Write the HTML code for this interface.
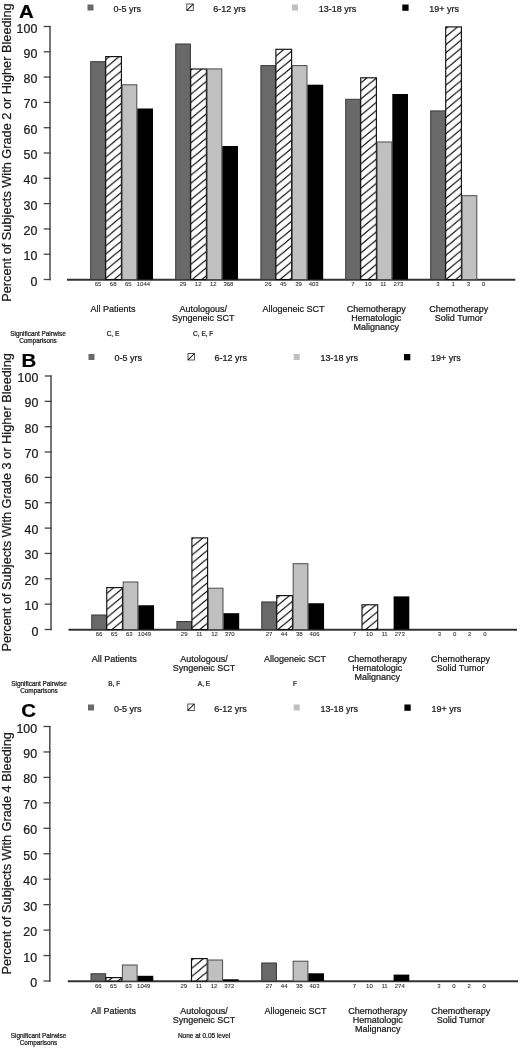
<!DOCTYPE html><html><head><meta charset="utf-8"><style>html,body{margin:0;padding:0;background:#fff;overflow:hidden;}svg{display:block;will-change:transform;}text{stroke:#111;stroke-width:0.22px;}</style></head><body>
<svg width="520" height="1049" viewBox="0 0 520 1049" font-family='"Liberation Sans", sans-serif'>
<defs><pattern id="h" patternUnits="userSpaceOnUse" width="9.76" height="8.1" patternTransform="translate(0,1.6)"><path d="M-1,8.93 L10.76,-0.83 M-1,0.83 L1,-0.83 M8.76,8.93 L10.76,7.27" stroke="#000" stroke-width="1.15" fill="none"/></pattern></defs>
<rect width="520" height="1049" fill="#fff"/>
<text transform="translate(19,17.6) scale(1.08,1)" font-size="18.9" font-weight="bold" fill="#000">A</text>
<rect x="87.5" y="4.5" width="6" height="6" fill="#696969"/>
<rect x="186.8" y="4" width="6.5" height="6.5" fill="#fff" stroke="#444" stroke-width="0.9"/>
<path d="M186.8,10.5 L193.3,4" stroke="#000" stroke-width="1.05"/>
<rect x="292" y="4.5" width="6" height="6" fill="#c0c0c0"/>
<rect x="402.3" y="4.5" width="6.3" height="6.3" fill="#000"/>
<text x="113.5" y="11.7" font-size="9" fill="#222">0-5 yrs</text>
<text x="213.3" y="11.7" font-size="9" fill="#222">6-12 yrs</text>
<text x="318.8" y="11.7" font-size="9" fill="#222">13-18 yrs</text>
<text x="429.3" y="11.7" font-size="9" fill="#222">19+ yrs</text>
<path d="M50,25.9 V280.3" stroke="#555" stroke-width="1.6" fill="none"/>
<path d="M43.7,279.5 H50.8" stroke="#444" stroke-width="1.3"/>
<text x="37.3" y="285.5" font-size="12.4" text-anchor="end" fill="#222">0</text>
<path d="M43.7,254.2 H50.8" stroke="#444" stroke-width="1.3"/>
<text x="37.3" y="260.2" font-size="12.4" text-anchor="end" fill="#222">10</text>
<path d="M43.7,228.9 H50.8" stroke="#444" stroke-width="1.3"/>
<text x="37.3" y="234.9" font-size="12.4" text-anchor="end" fill="#222">20</text>
<path d="M43.7,203.6 H50.8" stroke="#444" stroke-width="1.3"/>
<text x="37.3" y="209.6" font-size="12.4" text-anchor="end" fill="#222">30</text>
<path d="M43.7,178.3 H50.8" stroke="#444" stroke-width="1.3"/>
<text x="37.3" y="184.3" font-size="12.4" text-anchor="end" fill="#222">40</text>
<path d="M43.7,153 H50.8" stroke="#444" stroke-width="1.3"/>
<text x="37.3" y="159" font-size="12.4" text-anchor="end" fill="#222">50</text>
<path d="M43.7,127.7 H50.8" stroke="#444" stroke-width="1.3"/>
<text x="37.3" y="133.7" font-size="12.4" text-anchor="end" fill="#222">60</text>
<path d="M43.7,102.4 H50.8" stroke="#444" stroke-width="1.3"/>
<text x="37.3" y="108.4" font-size="12.4" text-anchor="end" fill="#222">70</text>
<path d="M43.7,77.1 H50.8" stroke="#444" stroke-width="1.3"/>
<text x="37.3" y="83.1" font-size="12.4" text-anchor="end" fill="#222">80</text>
<path d="M43.7,51.8 H50.8" stroke="#444" stroke-width="1.3"/>
<text x="37.3" y="57.8" font-size="12.4" text-anchor="end" fill="#222">90</text>
<path d="M43.7,26.5 H50.8" stroke="#444" stroke-width="1.3"/>
<text x="37.3" y="32.5" font-size="12.4" text-anchor="end" fill="#222">100</text>
<text transform="translate(11.3,152.6) rotate(-90)" font-size="12.75" text-anchor="middle" fill="#222">Percent of Subjects With Grade 2 or Higher Bleeding</text>
<path d="M67,279.8 H515.3" stroke="#333" stroke-width="2"/>
<rect x="90.7" y="61.7" width="14.7" height="217.8" fill="#696969" stroke="#383838" stroke-width="1"/>
<text x="98" y="286" font-size="6" text-anchor="middle" fill="#333" style="stroke-width:0.08px">65</text>
<rect x="105.9" y="56" width="15.7" height="223.5" fill="#fff" stroke="none"/>
<rect x="105.7" y="56.6" width="15.7" height="222.9" fill="url(#h)" stroke="#111" stroke-width="1.15"/>
<text x="113.15" y="286" font-size="6" text-anchor="middle" fill="#333" style="stroke-width:0.08px">68</text>
<rect x="122.1" y="84.8" width="14.7" height="194.7" fill="#c0c0c0" stroke="#4a4a4a" stroke-width="1"/>
<text x="128.3" y="286" font-size="6" text-anchor="middle" fill="#333" style="stroke-width:0.08px">65</text>
<rect x="137.3" y="108.5" width="15.7" height="171" fill="#000"/>
<text x="143.45" y="286" font-size="6" text-anchor="middle" fill="#333" style="stroke-width:0.08px">1044</text>
<rect x="175.7" y="44" width="14.7" height="235.5" fill="#696969" stroke="#383838" stroke-width="1"/>
<text x="183" y="286" font-size="6" text-anchor="middle" fill="#333" style="stroke-width:0.08px">29</text>
<rect x="190.9" y="68.4" width="15.7" height="211.1" fill="#fff" stroke="none"/>
<rect x="190.7" y="69" width="15.7" height="210.5" fill="url(#h)" stroke="#111" stroke-width="1.15"/>
<text x="198.15" y="286" font-size="6" text-anchor="middle" fill="#333" style="stroke-width:0.08px">12</text>
<rect x="207.1" y="68.9" width="14.7" height="210.6" fill="#c0c0c0" stroke="#4a4a4a" stroke-width="1"/>
<text x="213.3" y="286" font-size="6" text-anchor="middle" fill="#333" style="stroke-width:0.08px">12</text>
<rect x="222.3" y="146" width="15.7" height="133.5" fill="#000"/>
<text x="228.45" y="286" font-size="6" text-anchor="middle" fill="#333" style="stroke-width:0.08px">368</text>
<rect x="260.9" y="65.6" width="14.7" height="213.9" fill="#696969" stroke="#383838" stroke-width="1"/>
<text x="268.2" y="286" font-size="6" text-anchor="middle" fill="#333" style="stroke-width:0.08px">26</text>
<rect x="276.1" y="48.7" width="15.7" height="230.8" fill="#fff" stroke="none"/>
<rect x="275.9" y="49.3" width="15.7" height="230.2" fill="url(#h)" stroke="#111" stroke-width="1.15"/>
<text x="283.35" y="286" font-size="6" text-anchor="middle" fill="#333" style="stroke-width:0.08px">45</text>
<rect x="292.3" y="65.6" width="14.7" height="213.9" fill="#c0c0c0" stroke="#4a4a4a" stroke-width="1"/>
<text x="298.5" y="286" font-size="6" text-anchor="middle" fill="#333" style="stroke-width:0.08px">39</text>
<rect x="307.5" y="84.7" width="15.7" height="194.8" fill="#000"/>
<text x="313.65" y="286" font-size="6" text-anchor="middle" fill="#333" style="stroke-width:0.08px">403</text>
<rect x="345.7" y="99.3" width="14.7" height="180.2" fill="#696969" stroke="#383838" stroke-width="1"/>
<text x="353" y="286" font-size="6" text-anchor="middle" fill="#333" style="stroke-width:0.08px">7</text>
<rect x="360.9" y="77.2" width="15.7" height="202.3" fill="#fff" stroke="none"/>
<rect x="360.7" y="77.8" width="15.7" height="201.7" fill="url(#h)" stroke="#111" stroke-width="1.15"/>
<text x="368.15" y="286" font-size="6" text-anchor="middle" fill="#333" style="stroke-width:0.08px">10</text>
<rect x="377.1" y="142" width="14.7" height="137.5" fill="#c0c0c0" stroke="#4a4a4a" stroke-width="1"/>
<text x="383.3" y="286" font-size="6" text-anchor="middle" fill="#333" style="stroke-width:0.08px">11</text>
<rect x="392.3" y="94" width="15.7" height="185.5" fill="#000"/>
<text x="398.45" y="286" font-size="6" text-anchor="middle" fill="#333" style="stroke-width:0.08px">273</text>
<rect x="430.7" y="110.9" width="14.7" height="168.6" fill="#696969" stroke="#383838" stroke-width="1"/>
<text x="438" y="286" font-size="6" text-anchor="middle" fill="#333" style="stroke-width:0.08px">3</text>
<rect x="445.9" y="26.3" width="15.7" height="253.2" fill="#fff" stroke="none"/>
<rect x="445.7" y="26.9" width="15.7" height="252.6" fill="url(#h)" stroke="#111" stroke-width="1.15"/>
<text x="453.15" y="286" font-size="6" text-anchor="middle" fill="#333" style="stroke-width:0.08px">1</text>
<rect x="462.1" y="195.7" width="14.7" height="83.8" fill="#c0c0c0" stroke="#4a4a4a" stroke-width="1"/>
<text x="468.3" y="286" font-size="6" text-anchor="middle" fill="#333" style="stroke-width:0.08px">3</text>
<text x="483.45" y="286" font-size="6" text-anchor="middle" fill="#333" style="stroke-width:0.08px">0</text>
<text x="113" y="312.2" font-size="9" text-anchor="middle" fill="#222">All Patients</text>
<text x="203.2" y="312.2" font-size="9" text-anchor="middle" fill="#222">Autologous/</text>
<text x="203.2" y="321.3" font-size="9" text-anchor="middle" fill="#222">Syngeneic SCT</text>
<text x="293.5" y="312.2" font-size="9" text-anchor="middle" fill="#222">Allogeneic SCT</text>
<text x="376.3" y="312.2" font-size="9" text-anchor="middle" fill="#222">Chemotherapy</text>
<text x="376.3" y="321.3" font-size="9" text-anchor="middle" fill="#222">Hematologic</text>
<text x="376.3" y="330.4" font-size="9" text-anchor="middle" fill="#222">Malignancy</text>
<text x="458.8" y="312.2" font-size="9" text-anchor="middle" fill="#222">Chemotherapy</text>
<text x="458.8" y="321.3" font-size="9" text-anchor="middle" fill="#222">Solid Tumor</text>
<text x="38" y="336.1" font-size="6.4" text-anchor="middle" fill="#222">Significant Pairwise</text>
<text x="38" y="343.1" font-size="6.4" text-anchor="middle" fill="#222">Comparisons</text>
<text x="113" y="336.1" font-size="6.5" text-anchor="middle" fill="#222">C, E</text>
<text x="203.2" y="336.1" font-size="6.5" text-anchor="middle" fill="#222">C, E, F</text>
<text transform="translate(21.6,366.7) scale(1.08,1)" font-size="18.9" font-weight="bold" fill="#000">B</text>
<rect x="88.5" y="354" width="6" height="6" fill="#696969"/>
<rect x="188" y="353.5" width="6.5" height="6.5" fill="#fff" stroke="#444" stroke-width="0.9"/>
<path d="M188,360 L194.5,353.5" stroke="#000" stroke-width="1.05"/>
<rect x="293.7" y="354" width="6" height="6" fill="#c0c0c0"/>
<rect x="404" y="354" width="6.3" height="6.3" fill="#000"/>
<text x="114.5" y="361.2" font-size="9" fill="#222">0-5 yrs</text>
<text x="214.5" y="361.2" font-size="9" fill="#222">6-12 yrs</text>
<text x="320.5" y="361.2" font-size="9" fill="#222">13-18 yrs</text>
<text x="431" y="361.2" font-size="9" fill="#222">19+ yrs</text>
<path d="M51,375.4 V630.3" stroke="#555" stroke-width="1.6" fill="none"/>
<path d="M44.7,629.5 H51.8" stroke="#444" stroke-width="1.3"/>
<text x="38.3" y="635.5" font-size="12.4" text-anchor="end" fill="#222">0</text>
<path d="M44.7,604.15 H51.8" stroke="#444" stroke-width="1.3"/>
<text x="38.3" y="610.15" font-size="12.4" text-anchor="end" fill="#222">10</text>
<path d="M44.7,578.8 H51.8" stroke="#444" stroke-width="1.3"/>
<text x="38.3" y="584.8" font-size="12.4" text-anchor="end" fill="#222">20</text>
<path d="M44.7,553.45 H51.8" stroke="#444" stroke-width="1.3"/>
<text x="38.3" y="559.45" font-size="12.4" text-anchor="end" fill="#222">30</text>
<path d="M44.7,528.1 H51.8" stroke="#444" stroke-width="1.3"/>
<text x="38.3" y="534.1" font-size="12.4" text-anchor="end" fill="#222">40</text>
<path d="M44.7,502.75 H51.8" stroke="#444" stroke-width="1.3"/>
<text x="38.3" y="508.75" font-size="12.4" text-anchor="end" fill="#222">50</text>
<path d="M44.7,477.4 H51.8" stroke="#444" stroke-width="1.3"/>
<text x="38.3" y="483.4" font-size="12.4" text-anchor="end" fill="#222">60</text>
<path d="M44.7,452.05 H51.8" stroke="#444" stroke-width="1.3"/>
<text x="38.3" y="458.05" font-size="12.4" text-anchor="end" fill="#222">70</text>
<path d="M44.7,426.7 H51.8" stroke="#444" stroke-width="1.3"/>
<text x="38.3" y="432.7" font-size="12.4" text-anchor="end" fill="#222">80</text>
<path d="M44.7,401.35 H51.8" stroke="#444" stroke-width="1.3"/>
<text x="38.3" y="407.35" font-size="12.4" text-anchor="end" fill="#222">90</text>
<path d="M44.7,376 H51.8" stroke="#444" stroke-width="1.3"/>
<text x="38.3" y="382" font-size="12.4" text-anchor="end" fill="#222">100</text>
<text transform="translate(11.3,502.35) rotate(-90)" font-size="12.75" text-anchor="middle" fill="#222">Percent of Subjects With Grade 3 or Higher Bleeding</text>
<path d="M68.5,629.8 H517" stroke="#333" stroke-width="2"/>
<rect x="91.75" y="615" width="14.7" height="14.5" fill="#696969" stroke="#383838" stroke-width="1"/>
<text x="99.05" y="636" font-size="6" text-anchor="middle" fill="#333" style="stroke-width:0.08px">66</text>
<rect x="106.95" y="587" width="15.7" height="42.5" fill="#fff" stroke="none"/>
<rect x="106.75" y="587.6" width="15.7" height="41.9" fill="url(#h)" stroke="#111" stroke-width="1.15"/>
<text x="114.2" y="636" font-size="6" text-anchor="middle" fill="#333" style="stroke-width:0.08px">65</text>
<rect x="123.15" y="582" width="14.7" height="47.5" fill="#c0c0c0" stroke="#4a4a4a" stroke-width="1"/>
<text x="129.35" y="636" font-size="6" text-anchor="middle" fill="#333" style="stroke-width:0.08px">63</text>
<rect x="138.35" y="605.25" width="15.7" height="24.25" fill="#000"/>
<text x="144.5" y="636" font-size="6" text-anchor="middle" fill="#333" style="stroke-width:0.08px">1049</text>
<rect x="176.9" y="621.5" width="14.7" height="8" fill="#696969" stroke="#383838" stroke-width="1"/>
<text x="184.2" y="636" font-size="6" text-anchor="middle" fill="#333" style="stroke-width:0.08px">29</text>
<rect x="192.1" y="537.3" width="15.7" height="92.2" fill="#fff" stroke="none"/>
<rect x="191.9" y="537.9" width="15.7" height="91.6" fill="url(#h)" stroke="#111" stroke-width="1.15"/>
<text x="199.35" y="636" font-size="6" text-anchor="middle" fill="#333" style="stroke-width:0.08px">11</text>
<rect x="208.3" y="588.2" width="14.7" height="41.3" fill="#c0c0c0" stroke="#4a4a4a" stroke-width="1"/>
<text x="214.5" y="636" font-size="6" text-anchor="middle" fill="#333" style="stroke-width:0.08px">12</text>
<rect x="223.5" y="613.2" width="15.7" height="16.3" fill="#000"/>
<text x="229.65" y="636" font-size="6" text-anchor="middle" fill="#333" style="stroke-width:0.08px">370</text>
<rect x="261.75" y="601.95" width="14.7" height="27.55" fill="#696969" stroke="#383838" stroke-width="1"/>
<text x="269.05" y="636" font-size="6" text-anchor="middle" fill="#333" style="stroke-width:0.08px">27</text>
<rect x="276.95" y="595" width="15.7" height="34.5" fill="#fff" stroke="none"/>
<rect x="276.75" y="595.6" width="15.7" height="33.9" fill="url(#h)" stroke="#111" stroke-width="1.15"/>
<text x="284.2" y="636" font-size="6" text-anchor="middle" fill="#333" style="stroke-width:0.08px">44</text>
<rect x="293.15" y="563.7" width="14.7" height="65.8" fill="#c0c0c0" stroke="#4a4a4a" stroke-width="1"/>
<text x="299.35" y="636" font-size="6" text-anchor="middle" fill="#333" style="stroke-width:0.08px">38</text>
<rect x="308.35" y="603.25" width="15.7" height="26.25" fill="#000"/>
<text x="314.5" y="636" font-size="6" text-anchor="middle" fill="#333" style="stroke-width:0.08px">406</text>
<text x="354.3" y="636" font-size="6" text-anchor="middle" fill="#333" style="stroke-width:0.08px">7</text>
<rect x="362.2" y="604.2" width="15.7" height="25.3" fill="#fff" stroke="none"/>
<rect x="362" y="604.8" width="15.7" height="24.7" fill="url(#h)" stroke="#111" stroke-width="1.15"/>
<text x="369.45" y="636" font-size="6" text-anchor="middle" fill="#333" style="stroke-width:0.08px">10</text>
<text x="384.6" y="636" font-size="6" text-anchor="middle" fill="#333" style="stroke-width:0.08px">11</text>
<rect x="393.6" y="596.4" width="15.7" height="33.1" fill="#000"/>
<text x="399.75" y="636" font-size="6" text-anchor="middle" fill="#333" style="stroke-width:0.08px">273</text>
<text x="439.4" y="636" font-size="6" text-anchor="middle" fill="#333" style="stroke-width:0.08px">3</text>
<text x="454.55" y="636" font-size="6" text-anchor="middle" fill="#333" style="stroke-width:0.08px">0</text>
<text x="469.7" y="636" font-size="6" text-anchor="middle" fill="#333" style="stroke-width:0.08px">2</text>
<text x="484.85" y="636" font-size="6" text-anchor="middle" fill="#333" style="stroke-width:0.08px">0</text>
<text x="114.3" y="662.2" font-size="9" text-anchor="middle" fill="#222">All Patients</text>
<text x="204" y="662.2" font-size="9" text-anchor="middle" fill="#222">Autologous/</text>
<text x="204" y="671.3" font-size="9" text-anchor="middle" fill="#222">Syngeneic SCT</text>
<text x="294.9" y="662.2" font-size="9" text-anchor="middle" fill="#222">Allogeneic SCT</text>
<text x="377.2" y="662.2" font-size="9" text-anchor="middle" fill="#222">Chemotherapy</text>
<text x="377.2" y="671.3" font-size="9" text-anchor="middle" fill="#222">Hematologic</text>
<text x="377.2" y="680.4" font-size="9" text-anchor="middle" fill="#222">Malignancy</text>
<text x="460.5" y="662.2" font-size="9" text-anchor="middle" fill="#222">Chemotherapy</text>
<text x="460.5" y="671.3" font-size="9" text-anchor="middle" fill="#222">Solid Tumor</text>
<text x="39" y="686.1" font-size="6.4" text-anchor="middle" fill="#222">Significant Pairwise</text>
<text x="39" y="693.1" font-size="6.4" text-anchor="middle" fill="#222">Comparisons</text>
<text x="114.3" y="686.1" font-size="6.5" text-anchor="middle" fill="#222">B, F</text>
<text x="204" y="686.1" font-size="6.5" text-anchor="middle" fill="#222">A, E</text>
<text x="294.9" y="686.1" font-size="6.5" text-anchor="middle" fill="#222">F</text>
<text transform="translate(21.2,717.2) scale(1.08,1)" font-size="18.9" font-weight="bold" fill="#000">C</text>
<rect x="88" y="704.5" width="6" height="6" fill="#696969"/>
<rect x="187.8" y="704" width="6.5" height="6.5" fill="#fff" stroke="#444" stroke-width="0.9"/>
<path d="M187.8,710.5 L194.3,704" stroke="#000" stroke-width="1.05"/>
<rect x="293.7" y="704.5" width="6" height="6" fill="#c0c0c0"/>
<rect x="404.4" y="704.5" width="6.3" height="6.3" fill="#000"/>
<text x="114" y="711.7" font-size="9" fill="#222">0-5 yrs</text>
<text x="214.3" y="711.7" font-size="9" fill="#222">6-12 yrs</text>
<text x="320.5" y="711.7" font-size="9" fill="#222">13-18 yrs</text>
<text x="431.4" y="711.7" font-size="9" fill="#222">19+ yrs</text>
<path d="M49.8,725.9 V981.8" stroke="#555" stroke-width="1.6" fill="none"/>
<path d="M43.5,981 H50.6" stroke="#444" stroke-width="1.3"/>
<text x="37.1" y="987" font-size="12.4" text-anchor="end" fill="#222">0</text>
<path d="M43.5,955.55 H50.6" stroke="#444" stroke-width="1.3"/>
<text x="37.1" y="961.55" font-size="12.4" text-anchor="end" fill="#222">10</text>
<path d="M43.5,930.1 H50.6" stroke="#444" stroke-width="1.3"/>
<text x="37.1" y="936.1" font-size="12.4" text-anchor="end" fill="#222">20</text>
<path d="M43.5,904.65 H50.6" stroke="#444" stroke-width="1.3"/>
<text x="37.1" y="910.65" font-size="12.4" text-anchor="end" fill="#222">30</text>
<path d="M43.5,879.2 H50.6" stroke="#444" stroke-width="1.3"/>
<text x="37.1" y="885.2" font-size="12.4" text-anchor="end" fill="#222">40</text>
<path d="M43.5,853.75 H50.6" stroke="#444" stroke-width="1.3"/>
<text x="37.1" y="859.75" font-size="12.4" text-anchor="end" fill="#222">50</text>
<path d="M43.5,828.3 H50.6" stroke="#444" stroke-width="1.3"/>
<text x="37.1" y="834.3" font-size="12.4" text-anchor="end" fill="#222">60</text>
<path d="M43.5,802.85 H50.6" stroke="#444" stroke-width="1.3"/>
<text x="37.1" y="808.85" font-size="12.4" text-anchor="end" fill="#222">70</text>
<path d="M43.5,777.4 H50.6" stroke="#444" stroke-width="1.3"/>
<text x="37.1" y="783.4" font-size="12.4" text-anchor="end" fill="#222">80</text>
<path d="M43.5,751.95 H50.6" stroke="#444" stroke-width="1.3"/>
<text x="37.1" y="757.95" font-size="12.4" text-anchor="end" fill="#222">90</text>
<path d="M43.5,726.5 H50.6" stroke="#444" stroke-width="1.3"/>
<text x="37.1" y="732.5" font-size="12.4" text-anchor="end" fill="#222">100</text>
<text transform="translate(11.3,853.35) rotate(-90)" font-size="12.75" text-anchor="middle" fill="#222">Percent of Subjects With Grade 4 Bleeding</text>
<path d="M67.8,981.3 H518" stroke="#333" stroke-width="2"/>
<rect x="91" y="973.75" width="14.7" height="7.25" fill="#696969" stroke="#383838" stroke-width="1"/>
<text x="98.3" y="987.5" font-size="6" text-anchor="middle" fill="#333" style="stroke-width:0.08px">66</text>
<rect x="106.2" y="977" width="15.7" height="4" fill="#fff" stroke="none"/>
<rect x="106" y="977.6" width="15.7" height="3.4" fill="url(#h)" stroke="#111" stroke-width="1.15"/>
<text x="113.45" y="987.5" font-size="6" text-anchor="middle" fill="#333" style="stroke-width:0.08px">65</text>
<rect x="122.4" y="965" width="14.7" height="16" fill="#c0c0c0" stroke="#4a4a4a" stroke-width="1"/>
<text x="128.6" y="987.5" font-size="6" text-anchor="middle" fill="#333" style="stroke-width:0.08px">63</text>
<rect x="137.6" y="975.8" width="15.7" height="5.2" fill="#000"/>
<text x="143.75" y="987.5" font-size="6" text-anchor="middle" fill="#333" style="stroke-width:0.08px">1049</text>
<text x="183.8" y="987.5" font-size="6" text-anchor="middle" fill="#333" style="stroke-width:0.08px">29</text>
<rect x="191.7" y="958" width="15.7" height="23" fill="#fff" stroke="none"/>
<rect x="191.5" y="958.6" width="15.7" height="22.4" fill="url(#h)" stroke="#111" stroke-width="1.15"/>
<text x="198.95" y="987.5" font-size="6" text-anchor="middle" fill="#333" style="stroke-width:0.08px">11</text>
<rect x="207.9" y="960" width="14.7" height="21" fill="#c0c0c0" stroke="#4a4a4a" stroke-width="1"/>
<text x="214.1" y="987.5" font-size="6" text-anchor="middle" fill="#333" style="stroke-width:0.08px">12</text>
<rect x="223.1" y="979.3" width="15.7" height="1.7" fill="#000"/>
<text x="229.25" y="987.5" font-size="6" text-anchor="middle" fill="#333" style="stroke-width:0.08px">372</text>
<rect x="261.75" y="963" width="14.7" height="18" fill="#696969" stroke="#383838" stroke-width="1"/>
<text x="269.05" y="987.5" font-size="6" text-anchor="middle" fill="#333" style="stroke-width:0.08px">27</text>
<text x="284.2" y="987.5" font-size="6" text-anchor="middle" fill="#333" style="stroke-width:0.08px">44</text>
<rect x="293.15" y="961.2" width="14.7" height="19.8" fill="#c0c0c0" stroke="#4a4a4a" stroke-width="1"/>
<text x="299.35" y="987.5" font-size="6" text-anchor="middle" fill="#333" style="stroke-width:0.08px">38</text>
<rect x="308.35" y="973.3" width="15.7" height="7.7" fill="#000"/>
<text x="314.5" y="987.5" font-size="6" text-anchor="middle" fill="#333" style="stroke-width:0.08px">403</text>
<text x="354.3" y="987.5" font-size="6" text-anchor="middle" fill="#333" style="stroke-width:0.08px">7</text>
<text x="369.45" y="987.5" font-size="6" text-anchor="middle" fill="#333" style="stroke-width:0.08px">10</text>
<text x="384.6" y="987.5" font-size="6" text-anchor="middle" fill="#333" style="stroke-width:0.08px">11</text>
<rect x="393.6" y="974.6" width="15.7" height="6.4" fill="#000"/>
<text x="399.75" y="987.5" font-size="6" text-anchor="middle" fill="#333" style="stroke-width:0.08px">274</text>
<text x="438.8" y="987.5" font-size="6" text-anchor="middle" fill="#333" style="stroke-width:0.08px">3</text>
<text x="453.95" y="987.5" font-size="6" text-anchor="middle" fill="#333" style="stroke-width:0.08px">0</text>
<text x="469.1" y="987.5" font-size="6" text-anchor="middle" fill="#333" style="stroke-width:0.08px">2</text>
<text x="484.25" y="987.5" font-size="6" text-anchor="middle" fill="#333" style="stroke-width:0.08px">0</text>
<text x="113.5" y="1013.7" font-size="9" text-anchor="middle" fill="#222">All Patients</text>
<text x="204.1" y="1013.7" font-size="9" text-anchor="middle" fill="#222">Autologous/</text>
<text x="204.1" y="1022.8" font-size="9" text-anchor="middle" fill="#222">Syngeneic SCT</text>
<text x="295.4" y="1013.7" font-size="9" text-anchor="middle" fill="#222">Allogeneic SCT</text>
<text x="377.7" y="1013.7" font-size="9" text-anchor="middle" fill="#222">Chemotherapy</text>
<text x="377.7" y="1022.8" font-size="9" text-anchor="middle" fill="#222">Hematologic</text>
<text x="377.7" y="1031.9" font-size="9" text-anchor="middle" fill="#222">Malignancy</text>
<text x="460.7" y="1013.7" font-size="9" text-anchor="middle" fill="#222">Chemotherapy</text>
<text x="460.7" y="1022.8" font-size="9" text-anchor="middle" fill="#222">Solid Tumor</text>
<text x="38.5" y="1037.6" font-size="6.4" text-anchor="middle" fill="#222">Significant Pairwise</text>
<text x="38.5" y="1044.6" font-size="6.4" text-anchor="middle" fill="#222">Comparisons</text>
<text x="204.1" y="1037.6" font-size="6.5" text-anchor="middle" fill="#222">None at 0.05 level</text>
</svg></body></html>
